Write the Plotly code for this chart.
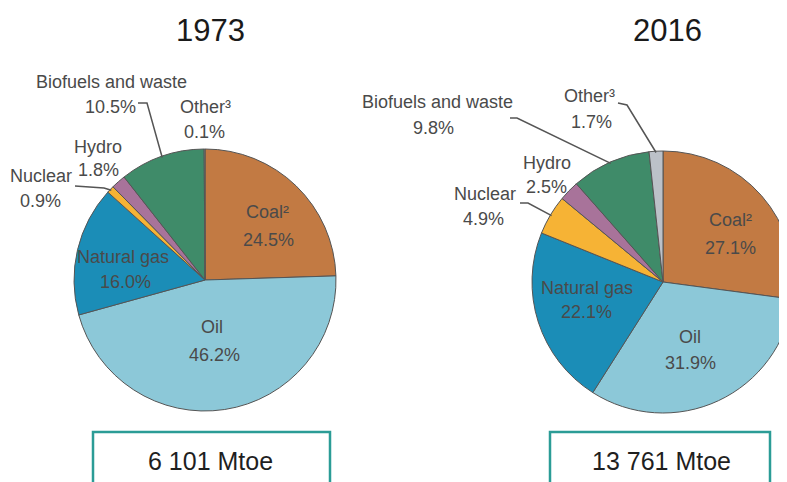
import math
import plotly.graph_objects as go

# the page has an 8px body margin, so the figure sits at (8, 8); positions below are page pixels
OFF = 8
W, H = 786, 474

sources = ["Coal", "Oil", "Natural gas", "Nuclear", "Hydro", "Biofuels and waste", "Other"]
share_1973 = [24.5, 46.2, 16.0, 0.9, 1.8, 10.5, 0.1]
share_2016 = [27.1, 31.9, 22.1, 4.9, 2.5, 9.8, 1.7]
years = ["1973", "2016"]
totals = ["6 101 Mtoe", "13 761 Mtoe"]

COLORS = ["#c27a43", "#8cc8d8", "#1b8db7", "#f6b335", "#a8739a", "#3f8b69", "#bcc1c8"]
FONT = "Liberation Sans, Arial, sans-serif"
LABEL_COLOR = "#4a4a4a"


def px(x):
    return (x - OFF) / W


def py(y):
    return 1 - (y - OFF) / H


# pie geometry in page pixels: centre x, centre y, radius
PIES = [(205, 280, 131), (663, 282, 131)]


def edge_point(values, i, pie, k=0.99):
    cx, cy, r = PIES[pie]
    mid = (sum(values[:i]) + values[i] / 2) / sum(values) * 2 * math.pi
    return cx + k * r * math.sin(mid), cy - k * r * math.cos(mid)


fig = go.Figure()
for n, vals in enumerate([share_1973, share_2016]):
    cx, cy, r = PIES[n]
    fig.add_trace(go.Pie(
        labels=sources, values=vals, sort=False, direction="clockwise", rotation=0,
        marker=dict(colors=COLORS, line=dict(color="#555555", width=1)),
        textinfo="none", hoverinfo="label+percent", showlegend=False,
        domain=dict(x=[max(px(cx - r), 0), min(px(cx + r), 1)], y=[py(cy + r), py(cy - r)]),
    ))


def label(x, y, text, size=18, color=LABEL_COLOR):
    fig.add_annotation(x=px(x), y=py(y), xref="paper", yref="paper", text=text,
                       showarrow=False, font=dict(family=FONT, size=size, color=color),
                       xanchor="center", yanchor="middle")


def leader(points):
    path = "M " + " L ".join(f"{px(a)},{py(b)}" for a, b in points)
    fig.add_shape(type="path", path=path, xref="paper", yref="paper",
                  line=dict(color="#555555", width=1.5))


# titles and totals
label(210, 31, years[0], size=31, color="#1a1a1a")
label(667, 31, years[1], size=31, color="#1a1a1a")
for (a, b), tot, tx in zip([(93, 330), (550, 770)], totals, [210, 661]):
    fig.add_shape(type="rect", xref="paper", yref="paper", x0=px(a), x1=px(b),
                  y0=py(500), y1=py(432), line=dict(color="#2b9c96", width=2.5),
                  fillcolor="white")
    label(tx, 461, tot, size=25, color="#1f1f1f")

# 1973 labels
label(267, 212, "Coal²", size=18)
label(268, 240, "24.5%", size=18)
label(212, 327, "Oil", size=18)
label(214, 355, "46.2%", size=18)
label(123, 257, "Natural gas", size=18)
label(125, 282, "16.0%", size=18)
label(112, 82, "Biofuels and waste")
label(110, 107, "10.5%")
label(205, 107, "Other³")
label(204, 132, "0.1%")
label(98, 147, "Hydro")
label(98, 170, "1.8%")
label(41, 176, "Nuclear")
label(40, 201, "0.9%")
leader([(138, 103), (147, 103), edge_point(share_1973, 5, 0)])
leader([(75, 186), (104, 188), edge_point(share_1973, 3, 0)])

# 2016 labels
label(730, 220, "Coal²", size=18)
label(730, 248, "27.1%", size=18)
label(690, 337, "Oil", size=18)
label(690, 363, "31.9%", size=18)
label(587, 288, "Natural gas", size=18)
label(586, 312, "22.1%", size=18)
label(437, 102, "Biofuels and waste")
label(433, 128, "9.8%")
label(589, 96, "Other³")
label(591, 122, "1.7%")
label(547, 163, "Hydro")
label(546, 187, "2.5%")
label(485, 194, "Nuclear")
label(483, 219, "4.9%")
leader([(510, 118), (517, 118), edge_point(share_2016, 5, 1)])
leader([(618, 103), (627, 105), edge_point(share_2016, 6, 1)])
leader([(520, 203), (528, 203), edge_point(share_2016, 3, 1)])

fig.update_layout(width=W, height=H, margin=dict(l=0, r=0, t=0, b=0),
                  paper_bgcolor="white", plot_bgcolor="white",
                  font=dict(family=FONT, color=LABEL_COLOR))
fig.write_html("out.html")
